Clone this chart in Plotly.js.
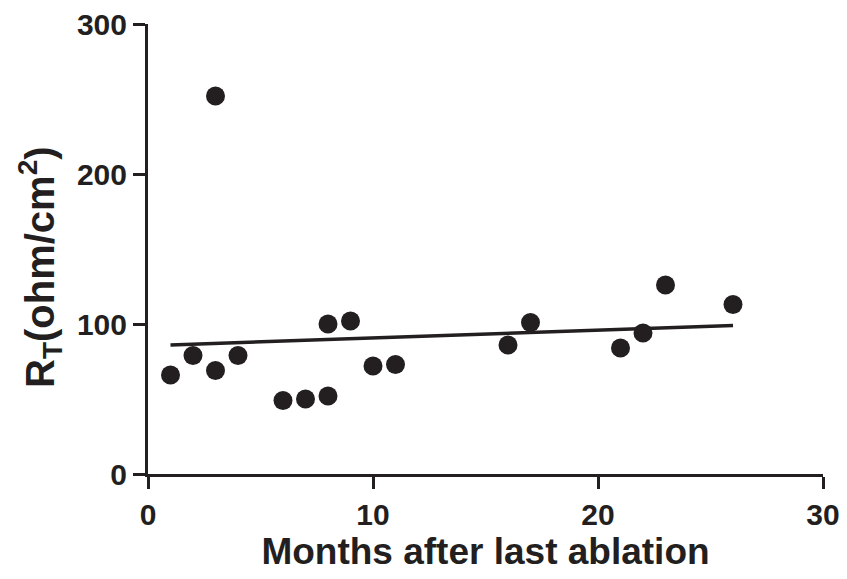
<!DOCTYPE html>
<html>
<head>
<meta charset="utf-8">
<script src="https://cdn.plot.ly/plotly-3.0.1.min.js"></script>
<style>html,body{margin:0;padding:0;background:#fff;}#chart{width:847px;height:579px;}</style>
</head>
<body>
<div id="chart"></div>
<script>
// Data
const months = [1, 2, 3, 3, 4, 6, 7, 8, 8, 9, 10, 11, 16, 17, 21, 22, 23, 26];
const rt = [66, 79, 252, 69, 79, 49, 50, 100, 52, 102, 72, 73, 86, 101, 84, 94, 126, 113];
// Regression line end points
const fitX = [1, 26];
const fitY = [86, 99];
const xTicks = [0, 10, 20, 30];
const yTicks = [0, 100, 200, 300];

const ink = '#231f20';
const font = 'Liberation Sans, Arial, Helvetica, sans-serif';

const traces = [
  {
    x: fitX, y: fitY, type: 'scatter', mode: 'lines',
    line: {color: ink, width: 3.5}, hoverinfo: 'skip', showlegend: false
  },
  {
    x: months, y: rt, type: 'scatter', mode: 'markers',
    marker: {color: ink, size: 19, line: {width: 0}}, showlegend: false
  }
];

const layout = {
  width: 847, height: 579,
  margin: {l: 148, r: 24, t: 24, b: 105},
  paper_bgcolor: '#fff', plot_bgcolor: '#fff',
  showlegend: false,
  font: {family: font, color: ink},
  xaxis: {
    range: [0, 30], tickvals: xTicks, ticktext: xTicks.map(String),
    showgrid: false, zeroline: false,
    showline: true, linecolor: ink, linewidth: 3,
    ticks: 'outside', ticklen: 12, tickwidth: 3, tickcolor: ink,
    tickfont: {family: font, size: 30, color: ink, weight: 'bold'},
    title: {text: '<b>Months after last ablation</b>', font: {family: font, size: 37, color: ink}, standoff: 8}
  },
  yaxis: {
    range: [0, 300], tickvals: yTicks, ticktext: yTicks.map(String),
    showgrid: false, zeroline: false,
    showline: true, linecolor: ink, linewidth: 3,
    ticks: 'outside', ticklen: 12, tickwidth: 3, tickcolor: ink,
    tickfont: {family: font, size: 30, color: ink, weight: 'bold'}
  },
  annotations: [{
    text: '<b>R<sub>T</sub>(ohm/cm<sup>2</sup>)</b>',
    xref: 'paper', yref: 'paper', x: -0.16, y: 0.46,
    xanchor: 'center', yanchor: 'middle', textangle: -90, showarrow: false,
    font: {family: font, size: 40, color: ink}
  }]
};

Plotly.newPlot('chart', traces, layout, {displayModeBar: false, staticPlot: true});
</script>
</body>
</html>
